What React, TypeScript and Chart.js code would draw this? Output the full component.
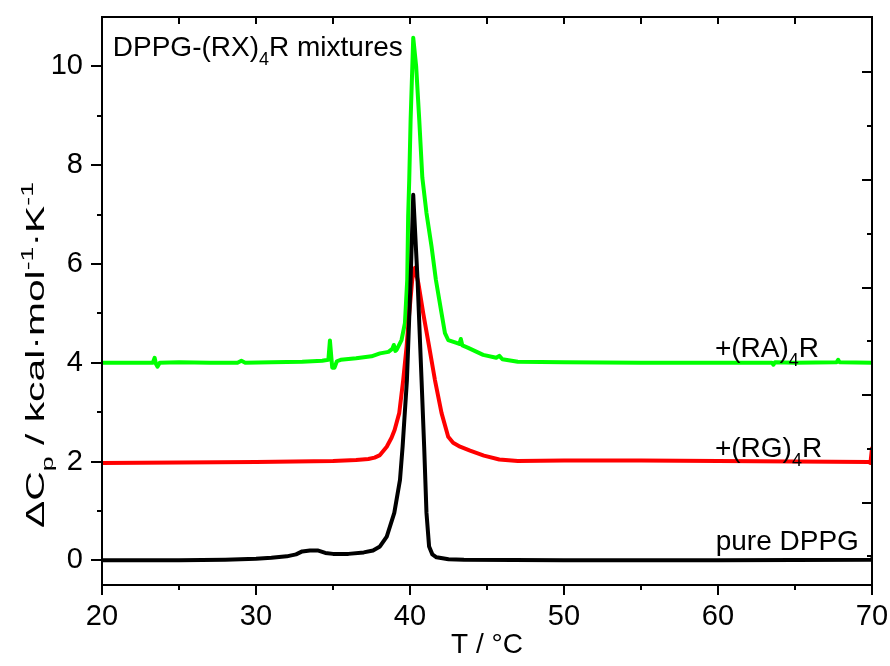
import React, { useEffect, useRef } from 'react';
import { Chart, registerables } from 'chart.js';

Chart.register(...registerables);

// ---------- data ----------
const tPure = [20, 25, 28, 30, 31, 32, 32.6, 33.0, 33.5, 34.0, 34.5, 35.0, 36, 37, 37.6, 38.05, 38.49, 38.98, 39.35, 39.52, 39.8, 40.04, 40.21, 40.49, 40.75, 40.92, 41.07, 41.24, 41.45, 41.72, 42.5, 43.5, 50, 60, 69.9, 70];
const cpPure = [0, 0, 0.01, 0.03, 0.05, 0.08, 0.12, 0.18, 0.2, 0.2, 0.15, 0.13, 0.13, 0.16, 0.2, 0.28, 0.48, 0.96, 1.63, 2.3, 3.65, 5.68, 7.4, 5.68, 3.65, 2.3, 0.96, 0.28, 0.12, 0.06, 0.02, 0.01, 0, 0, 0.01, 0.03];

const tRG = [20, 25, 30, 35, 36.5, 37.3, 37.7, 38.05, 38.49, 38.8, 39.0, 39.3, 39.56, 39.78, 39.95, 40.15, 40.32, 40.55, 40.86, 41.24, 41.62, 42.05, 42.48, 42.8, 43.25, 43.9, 44.8, 45.8, 47, 50, 55, 60, 65, 69.8, 69.9, 70];
const cpRG = [1.97, 1.98, 1.99, 2.01, 2.03, 2.05, 2.08, 2.13, 2.3, 2.48, 2.64, 2.98, 3.65, 4.33, 5.0, 5.7, 5.92, 5.6, 5.0, 4.33, 3.65, 2.98, 2.5, 2.38, 2.3, 2.22, 2.12, 2.04, 2.01, 2.02, 2.02, 2.01, 2.0, 1.99, 1.97, 2.27];

const tRA = [20, 21, 22, 23.3, 23.42, 23.5, 23.6, 23.75, 25, 27, 28.8, 29.05, 29.3, 31, 33, 34.3, 34.7, 34.8, 34.9, 34.95, 35.1, 35.25, 35.5, 36.5, 37.5, 38.05, 38.6, 38.85, 38.95, 39.05, 39.13, 39.45, 39.67, 39.82, 39.88, 39.95, 40.04, 40.21, 40.4, 40.6, 40.8, 41.07, 41.4, 41.68, 42.05, 42.27, 42.48, 43.02, 43.2, 43.3, 43.4, 43.78, 44.75, 45.6, 45.8, 46, 47, 50, 55, 60, 63.5, 63.6, 63.7, 65, 67.7, 67.8, 67.9, 70];
const cpRA = [4.0, 4.0, 4.0, 4.0, 4.1, 3.98, 3.92, 4.0, 4.01, 4.0, 4.0, 4.04, 4.0, 4.01, 4.02, 4.04, 4.06, 4.45, 4.08, 3.9, 3.9, 4.03, 4.06, 4.09, 4.13, 4.19, 4.22, 4.28, 4.36, 4.24, 4.26, 4.46, 4.8, 5.68, 6.96, 7.7, 8.92, 10.58, 10.0, 8.92, 7.75, 7.03, 6.35, 5.68, 5.0, 4.6, 4.46, 4.4, 4.38, 4.48, 4.35, 4.3, 4.16, 4.1, 4.14, 4.07, 4.02, 4.01, 4.0, 4.0, 4.0, 3.96, 4.01, 4.0, 4.01, 4.06, 4.01, 4.0];

const seriesColors = ['#000000', '#ff0000', '#00ff00'];

const xMajorTicks = [20, 30, 40, 50, 60, 70];
const xMinorTicks = [25, 35, 45, 55, 65];
const yMajorTicks = [0, 2, 4, 6, 8, 10];
const yMinorTicks = [1, 3, 5, 7, 9];
const rightMajorTicks = [0, 2, 4, 6, 8];
const rightMinorTicks = [-1, 1, 3, 5, 7];

const FONT = '"Liberation Sans", Arial, Helvetica, sans-serif';

type Part = { t: string; sub?: boolean; sup?: boolean };

function drawRich(ctx: CanvasRenderingContext2D, x: number, y: number, parts: Part[], size: number) {
  let cx = x;
  ctx.textBaseline = 'alphabetic';
  ctx.textAlign = 'left';
  for (const p of parts) {
    if (p.sub || p.sup) {
      const s = Math.round(size * 0.65);
      ctx.font = `${s}px ${FONT}`;
      const dy = p.sub ? size * 0.33 : -size * 0.42;
      ctx.fillText(p.t, cx, y + dy);
      cx += ctx.measureText(p.t).width;
    } else {
      ctx.font = `${size}px ${FONT}`;
      ctx.fillText(p.t, cx, y);
      cx += ctx.measureText(p.t).width;
    }
  }
  return cx - x;
}

function richWidth(ctx: CanvasRenderingContext2D, parts: Part[], size: number) {
  let w = 0;
  for (const p of parts) {
    const s = p.sub || p.sup ? Math.round(size * 0.65) : size;
    ctx.font = `${s}px ${FONT}`;
    w += ctx.measureText(p.t).width;
  }
  return w;
}

const framePlugin = {
  id: 'framePlugin',
  afterDatasetsDraw(chart: any) {
    const { ctx, chartArea: a, scales } = chart;
    const x = scales.x, y = scales.y, y2 = scales.y2;
    ctx.save();
    ctx.strokeStyle = '#000';
    ctx.lineWidth = 2;
    ctx.strokeRect(a.left, a.top, a.right - a.left, a.bottom - a.top);
    ctx.beginPath();
    for (const v of xMajorTicks) {
      const px = Math.round(x.getPixelForValue(v));
      ctx.moveTo(px, a.bottom); ctx.lineTo(px, a.bottom + 10);
      ctx.moveTo(px, a.top); ctx.lineTo(px, a.top + 7);
    }
    for (const v of xMinorTicks) {
      const px = Math.round(x.getPixelForValue(v));
      ctx.moveTo(px, a.bottom); ctx.lineTo(px, a.bottom + 5);
      ctx.moveTo(px, a.top); ctx.lineTo(px, a.top + 7);
    }
    for (const v of yMajorTicks) {
      const py = Math.round(y.getPixelForValue(v));
      ctx.moveTo(a.left, py); ctx.lineTo(a.left - 11, py);
    }
    for (const v of yMinorTicks) {
      const py = Math.round(y.getPixelForValue(v));
      ctx.moveTo(a.left, py); ctx.lineTo(a.left - 5, py);
    }
    for (const v of rightMajorTicks) {
      const py = Math.round(y2.getPixelForValue(v));
      ctx.moveTo(a.right, py); ctx.lineTo(a.right - 10, py);
    }
    for (const v of rightMinorTicks) {
      const py = Math.round(y2.getPixelForValue(v));
      ctx.moveTo(a.right, py); ctx.lineTo(a.right - 5, py);
    }
    ctx.stroke();

    // annotations
    ctx.fillStyle = '#000';
    const size = 28;
    drawRich(ctx, x.getPixelForValue(20.7), y.getPixelForValue(10.22),
      [{ t: 'DPPG-(RX)' }, { t: '4', sub: true }, { t: 'R mixtures' }], size);
    drawRich(ctx, x.getPixelForValue(59.8), y.getPixelForValue(4.12),
      [{ t: '+(RA)' }, { t: '4', sub: true }, { t: 'R' }], size);
    drawRich(ctx, x.getPixelForValue(59.8), y.getPixelForValue(2.1),
      [{ t: '+(RG)' }, { t: '4', sub: true }, { t: 'R' }], size);
    drawRich(ctx, x.getPixelForValue(59.85), y.getPixelForValue(0.2),
      [{ t: 'pure DPPG' }], size);

    // y axis title (rotated)
    const titleParts: Part[] = [
      { t: '\u0394C' }, { t: 'p', sub: true }, { t: ' / kcal\u00b7mol' }, { t: '-1', sup: true },
      { t: '\u00b7K' }, { t: '-1', sup: true },
    ];
    const tSize = 26;
    const w = richWidth(ctx, titleParts, tSize);
    const target = 346;
    ctx.save();
    ctx.translate(44, 528);
    ctx.rotate(-Math.PI / 2);
    ctx.scale(target / w, 1);
    drawRich(ctx, 0, 0, titleParts, tSize);
    ctx.restore();

    ctx.restore();
  },
};

export default function App() {
  const ref = useRef<HTMLCanvasElement | null>(null);
  useEffect(() => {
    if (!ref.current) return;
    const mk = (ts: number[], cs: number[]) => ts.map((t, i) => ({ x: t, y: cs[i] }));
    const chart = new Chart(ref.current, {
      type: 'line',
      data: {
        datasets: [
          { label: 'pure DPPG', data: mk(tPure, cpPure), borderColor: seriesColors[0] },
          { label: '+(RG)4R', data: mk(tRG, cpRG), borderColor: seriesColors[1] },
          { label: '+(RA)4R', data: mk(tRA, cpRA), borderColor: seriesColors[2] },
        ].map((d) => ({
          ...d,
          borderWidth: 4,
          pointRadius: 0,
          tension: 0,
          fill: false,
          borderJoinStyle: 'round' as const,
          borderCapStyle: 'round' as const,
        })),
      },
      options: {
        animation: false,
        responsive: true,
        maintainAspectRatio: false,
        parsing: false,
        layout: { padding: { top: 17, right: 18, left: 0, bottom: 0 } },
        plugins: { legend: { display: false }, tooltip: { enabled: false } },
        scales: {
          x: {
            type: 'linear',
            min: 20,
            max: 70,
            afterFit: (s: any) => { s.height = 81; s.paddingLeft = 0; s.paddingRight = 0; },
            afterBuildTicks: (s: any) => { s.ticks = xMajorTicks.map((v) => ({ value: v })); },
            grid: { display: false, drawTicks: false },
            border: { display: false },
            ticks: { font: { family: FONT, size: 29 }, color: '#000', padding: 15, maxRotation: 0, autoSkip: false },
            title: { display: true, text: 'T / \u00b0C', font: { family: FONT, size: 28 }, color: '#000', padding: { top: 0, bottom: 4 } },
          },
          y: {
            type: 'linear',
            min: -0.5,
            max: 11,
            afterFit: (s: any) => { s.width = 102; s.paddingTop = 0; s.paddingBottom = 0; },
            afterBuildTicks: (s: any) => { s.ticks = yMajorTicks.map((v) => ({ value: v })); },
            grid: { display: false, drawTicks: false },
            border: { display: false },
            ticks: { font: { family: FONT, size: 29 }, color: '#000', padding: 19, autoSkip: false },
          },
          y2: {
            type: 'linear',
            position: 'right',
            display: false,
            min: -1.53,
            max: 9.03,
          },
        },
      },
      plugins: [framePlugin],
    } as any);
    return () => chart.destroy();
  }, []);
  return (
    <div style={{ position: 'fixed', left: 0, top: 0, width: 890, height: 666, background: '#fff' }}>
      <canvas ref={ref} />
    </div>
  );
}
